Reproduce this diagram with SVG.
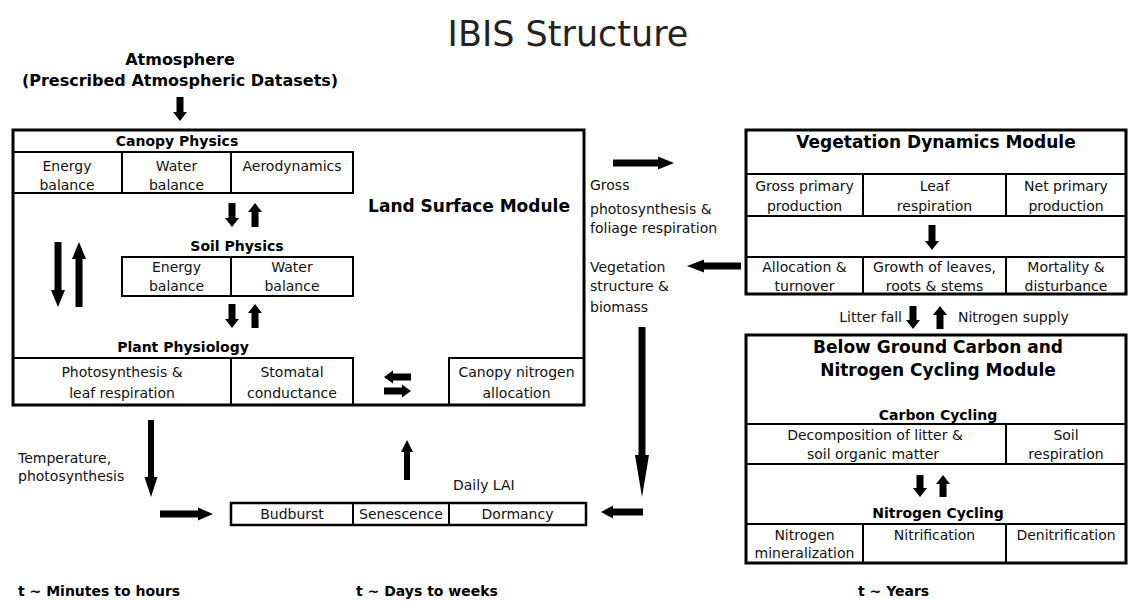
<svg xmlns="http://www.w3.org/2000/svg" width="1128" height="601" viewBox="0 0 1128 601">
<style>
.box{fill:none;stroke:#000;stroke-width:3}
.cell{fill:none;stroke:#000;stroke-width:2}
.t{font-family:"DejaVu Sans",Verdana,sans-serif;font-size:14px;fill:#111}
.c{text-anchor:middle}
.e{text-anchor:end}
.b{font-weight:bold;fill:#000}
.h{font-size:17px}
.a{fill:#000}
</style>
<rect width="1128" height="601" fill="#fff"/>
<text x="568" y="46" class="t c" style="font-size:35px;fill:#222">IBIS Structure</text>
<g id="atmosphere">
<text x="180" y="65" class="t c b" style="font-size:16px">Atmosphere</text>
<text x="180" y="86" class="t c b" style="font-size:16px">(Prescribed Atmospheric Datasets)</text>
</g>
<g id="land-surface-module">
<rect x="13" y="130" width="571" height="275" class="box"/>
<text x="177" y="146" class="t c b">Canopy Physics</text>
<path d="M13 152H353V193H13M122 152V193M231 152V193" class="cell"/>
<text x="67" y="171" class="t c">Energy</text><text x="67" y="190" class="t c">balance</text>
<text x="176.5" y="171" class="t c">Water</text><text x="176.5" y="190" class="t c">balance</text>
<text x="292" y="171" class="t c">Aerodynamics</text>
<text x="469" y="212" class="t c b h">Land Surface Module</text>
<text x="237" y="251" class="t c b">Soil Physics</text>
<path d="M122 257H353V296H122ZM231 257V296" class="cell"/>
<text x="176.5" y="272" class="t c">Energy</text><text x="176.5" y="291" class="t c">balance</text>
<text x="292" y="272" class="t c">Water</text><text x="292" y="291" class="t c">balance</text>
<text x="183" y="352" class="t c b">Plant Physiology</text>
<path d="M13 358H353V404M231 358V404M449 404V358H584" class="cell"/>
<text x="122" y="377" class="t c">Photosynthesis &amp;</text><text x="122" y="398" class="t c">leaf respiration</text>
<text x="292" y="377" class="t c">Stomatal</text><text x="292" y="398" class="t c">conductance</text>
<text x="516.5" y="377" class="t c">Canopy nitrogen</text><text x="516.5" y="398" class="t c">allocation</text>
</g>
<g id="vegetation-dynamics-module">
<rect x="746" y="130" width="380" height="164" class="box"/>
<text x="936" y="148" class="t c b h">Vegetation Dynamics Module</text>
<path d="M746 174H1126M746 216H1126M746 257H1126M863 174V216M1006 174V216M863 257V294M1006 257V294" class="cell"/>
<text x="804.5" y="191" class="t c">Gross primary</text><text x="804.5" y="211" class="t c">production</text>
<text x="934.5" y="191" class="t c">Leaf</text><text x="934.5" y="211" class="t c">respiration</text>
<text x="1066" y="191" class="t c">Net primary</text><text x="1066" y="211" class="t c">production</text>
<text x="804.5" y="272" class="t c">Allocation &amp;</text><text x="804.5" y="291" class="t c">turnover</text>
<text x="934.5" y="272" class="t c">Growth of leaves,</text><text x="934.5" y="291" class="t c">roots &amp; stems</text>
<text x="1066" y="272" class="t c">Mortality &amp;</text><text x="1066" y="291" class="t c">disturbance</text>
</g>
<g id="below-ground-module">
<rect x="746" y="335" width="380" height="228" class="box"/>
<text x="938" y="353" class="t c b h">Below Ground Carbon and</text>
<text x="938" y="376" class="t c b h">Nitrogen Cycling Module</text>
<text x="938" y="420" class="t c b">Carbon Cycling</text>
<path d="M746 424H1126M746 464H1126M746 524H1126M1006 424V464M863 524V563M1006 524V563" class="cell"/>
<text x="875" y="440" class="t c">Decomposition of litter &amp;</text><text x="873" y="459" class="t c">soil organic matter</text>
<text x="1066" y="440" class="t c">Soil</text><text x="1066" y="459" class="t c">respiration</text>
<text x="938" y="518" class="t c b">Nitrogen Cycling</text>
<text x="804.5" y="540" class="t c">Nitrogen</text><text x="804.5" y="558" class="t c">mineralization</text>
<text x="934.5" y="540" class="t c">Nitrification</text>
<text x="1066" y="540" class="t c">Denitrification</text>
</g>
<g id="phenology">
<rect x="231" y="503" width="355" height="22" class="box" style="stroke-width:2.5"/>
<path d="M353 503V525M449 503V525" class="cell"/>
<text x="292" y="519" class="t c">Budburst</text>
<text x="401" y="519" class="t c">Senescence</text>
<text x="517.5" y="519" class="t c">Dormancy</text>
</g>
<g id="connectors">
<polygon class="a" points="176.5,97 183.5,97 183.5,112 187,112 180,121 173,112 176.5,112"/>
<polygon class="a" points="228.5,203 235.5,203 235.5,218 239,218 232,227 225,218 228.5,218"/>
<polygon class="a" points="255,203 262,212 258.5,212 258.5,227 251.5,227 251.5,212 248,212"/>
<polygon class="a" points="228.5,304 235.5,304 235.5,319 239,319 232,328 225,319 228.5,319"/>
<polygon class="a" points="255,304 262,313 258.5,313 258.5,328 251.5,328 251.5,313 248,313"/>
<polygon class="a" points="54.5,242 61.5,242 61.5,290 65,290 58,307 51,290 54.5,290"/>
<polygon class="a" points="79,242 86,259 82.5,259 82.5,307 75.5,307 75.5,259 72,259"/>
<polygon class="a" points="384,377 393,370.5 393,373.5 411,373.5 411,380.5 393,380.5 393,383.5"/>
<polygon class="a" points="411,391 402,384.5 402,387.5 384,387.5 384,394.5 402,394.5 402,397.5"/>
<polygon class="a" points="613,159.5 658,159.5 658,156.5 674,163 658,169.5 658,166.5 613,166.5"/>
<polygon class="a" points="687,266 704,259.5 704,262.5 741,262.5 741,269.5 704,269.5 704,272.5"/>
<polygon class="a" points="928.5,225 935.5,225 935.5,241 939,241 932,250 925,241 928.5,241"/>
<polygon class="a" points="909.5,306 916.5,306 916.5,320 920,320 913,329 906,320 909.5,320"/>
<polygon class="a" points="940,306 947,315 943.5,315 943.5,329 936.5,329 936.5,315 933,315"/>
<polygon class="a" points="916.5,475 923.5,475 923.5,488 927,488 920,497 913,488 916.5,488"/>
<polygon class="a" points="943,475 950,484 946.5,484 946.5,497 939.5,497 939.5,484 936,484"/>
<polygon class="a" points="638.5,327 645.5,327 645.5,455 649,455 642,497 635,455 638.5,455"/>
<polygon class="a" points="601,512 613,505.5 613,508.5 643,508.5 643,515.5 613,515.5 613,518.5"/>
<polygon class="a" points="148,420 154,420 154,477 157.5,477 151,497 144.5,477 148,477"/>
<polygon class="a" points="213,514 198,507.5 198,510.5 160,510.5 160,517.5 198,517.5 198,520.5"/>
<polygon class="a" points="407,440 413,452 410,452 410,480 404,480 404,452 401,452"/>
</g>
<g id="labels">
<text x="590" y="190" class="t">Gross</text>
<text x="590" y="214" class="t">photosynthesis &amp;</text>
<text x="590" y="233" class="t">foliage respiration</text>
<text x="590" y="272" class="t">Vegetation</text>
<text x="590" y="291" class="t">structure &amp;</text>
<text x="590" y="312" class="t">biomass</text>
<text x="902" y="322" class="t e">Litter fall</text>
<text x="958" y="322" class="t">Nitrogen supply</text>
<text x="18" y="463" class="t">Temperature,</text>
<text x="18" y="481" class="t">photosynthesis</text>
<text x="453" y="490" class="t">Daily LAI</text>
<text x="18" y="596" class="t b">t ~ Minutes to hours</text>
<text x="356" y="596" class="t b">t ~ Days to weeks</text>
<text x="858" y="596" class="t b">t ~ Years</text>
</g>
</svg>
